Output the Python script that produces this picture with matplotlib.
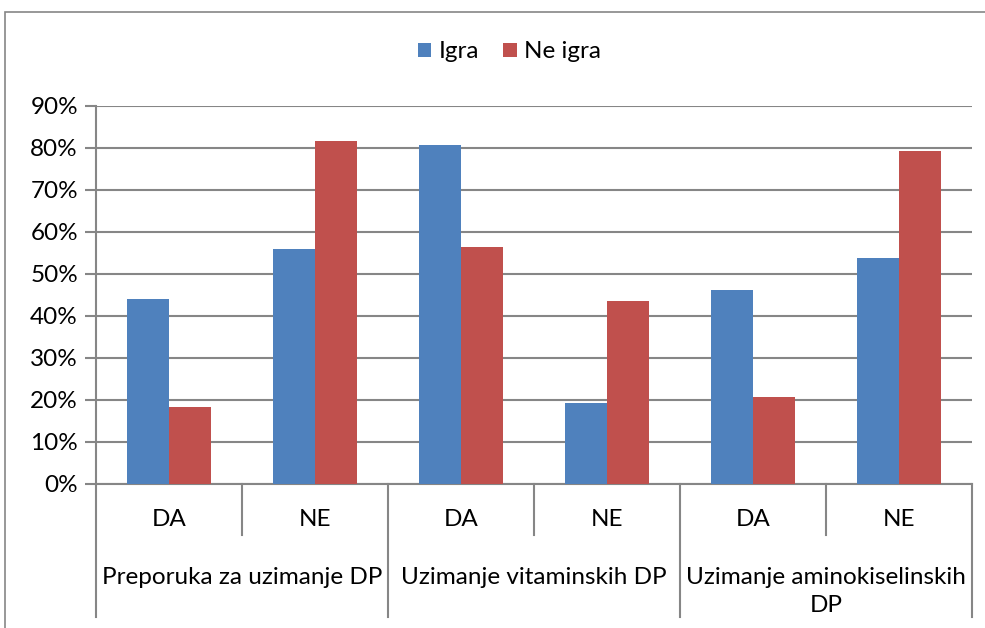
import numpy as np
import matplotlib
matplotlib.use("Agg")
import matplotlib.pyplot as plt
from matplotlib.patches import Rectangle
from matplotlib.ticker import PercentFormatter

plt.rcParams['font.family'] = ['Lato', 'DejaVu Sans']

groups = ['Preporuka za uzimanje DP', 'Uzimanje vitaminskih DP', 'Uzimanje aminokiselinskih\nDP']
answers = ['DA', 'NE', 'DA', 'NE', 'DA', 'NE']
igra = [44.0, 56.0, 80.7, 19.3, 46.2, 53.8]
ne_igra = [18.3, 81.7, 56.4, 43.6, 20.7, 79.3]
series_names = ['Igra', 'Ne igra']
colors = ['#4F81BD', '#C0504D']
grid_col = '#868686'
fs = 17.5

W, H = 985, 628
fig = plt.figure(figsize=(W / 100, H / 100), dpi=100)
ax = fig.add_axes([96 / W, (H - 484) / H, 876 / W, 378 / H])

# outer chart frame
fig.patches.append(Rectangle((5 / W, -0.1), 1.2, (H - 12) / H + 0.1, transform=fig.transFigure,
                             fill=False, edgecolor=grid_col, lw=1.2))

x = np.arange(len(answers)) + 0.5
bw = 0.2875
ax.bar(x - bw / 2, igra, bw, color=colors[0], label=series_names[0], zorder=3)
ax.bar(x + bw / 2, ne_igra, bw, color=colors[1], label=series_names[1], zorder=3)

ax.set_xlim(0, len(answers))
ax.set_ylim(0, 90)
ax.set_yticks(np.arange(0, 91, 10))
ax.yaxis.set_major_formatter(PercentFormatter(decimals=0))
ax.yaxis.grid(True, color=grid_col, lw=1.5, zorder=0)
ax.set_xticks([])
for s in ['top', 'right']:
    ax.spines[s].set_visible(False)
for s in ['left', 'bottom']:
    ax.spines[s].set_color(grid_col)
    ax.spines[s].set_linewidth(1.5)
ax.tick_params(axis='y', length=8, width=1.5, color=grid_col, labelsize=fs, pad=5)

# two-level category axis
tr = ax.get_xaxis_transform()
for i in range(len(answers) + 1):
    low = -0.352 if i % 2 == 0 else -0.135
    ax.plot([i, i], [0, low], transform=tr, color=grid_col, lw=1.5, clip_on=False)
for xi, lab in zip(x, answers):
    ax.text(xi, -0.093, lab, transform=tr, ha='center', va='center', fontsize=fs)
for g, lab in enumerate(groups):
    n = lab.count('\n')
    ax.text(2 * g + 1, -0.2646 - n * 28 / 378, lab, transform=tr, ha='center', va='baseline',
            fontsize=fs, multialignment='center', linespacing=1.4)

ax.legend(loc='center', bbox_to_anchor=(0.517, 1 - 52 / H), bbox_transform=fig.transFigure,
          ncol=2, frameon=False, fontsize=fs, handlelength=0.55, handleheight=0.55,
          handletextpad=0.3, columnspacing=1.0)

fig.savefig('out.png', dpi=100)
